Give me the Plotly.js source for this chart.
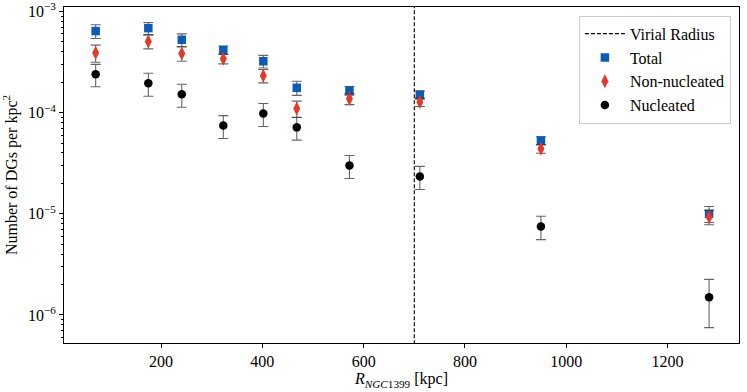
<!DOCTYPE html>
<html>
<head>
<meta charset="utf-8">
<script src="https://cdn.plot.ly/plotly-3.0.1.min.js"></script>
<style>html,body{margin:0;padding:0;background:#fff;}#chart{width:747px;height:392px;}</style>
</head>
<body>
<div id="chart"></div>
<script>
// Radial bins (kpc)
const radius = [71, 175, 241, 323, 402, 468, 572, 711, 950, 1282];
// Total
const totalVal = [6.4e-4, 6.85e-4, 5.25e-4, 4.15e-4, 3.22e-4, 1.76e-4, 1.65e-4, 1.5e-4, 5.3e-5, 1.0e-5];
const totalErr = [1.0e-4, 0.93e-4, 0.75e-4, 0.4e-4, 0.46e-4, 0.28e-4, 0.16e-4, 0.14e-4, 0.48e-5, 1.8e-6];
// Non-nucleated
const nonNucVal = [3.9e-4, 5.05e-4, 3.84e-4, 3.4e-4, 2.32e-4, 1.1e-4, 1.37e-4, 1.27e-4, 4.4e-5, 9.3e-6];
const nonNucErr = [0.75e-4, 0.78e-4, 0.62e-4, 0.37e-4, 0.35e-4, 0.2e-4, 0.17e-4, 0.12e-4, 0.43e-5, 1.5e-6];
// Nucleated
const nucVal = [2.4e-4, 1.95e-4, 1.52e-4, 7.45e-5, 9.8e-5, 7.15e-5, 3.0e-5, 2.34e-5, 7.5e-6, 1.5e-6];
const nucErr = [0.6e-4, 0.5e-4, 0.39e-4, 0.19e-4, 0.25e-4, 0.18e-4, 0.77e-5, 0.6e-5, 1.95e-6, 0.75e-6];
// Virial radius
const virialRadius = 700;
// Tick labels
const xTicks = [200, 400, 600, 800, 1000, 1200];
const yTicks = [1e-6, 1e-5, 1e-4, 1e-3];
const yTickText = ['10<sup>\u22126</sup>', '10<sup>\u22125</sup>', '10<sup>\u22124</sup>', '10<sup>\u22123</sup>'];
const yMinor = [];
[1e-7, 1e-6, 1e-5, 1e-4].forEach(d => { for (let k = 2; k <= 9; k++) yMinor.push(k * d); });

const font = "'Liberation Serif', 'DejaVu Serif', serif";
const errColor = 'rgba(50,50,50,0.75)';

function errTrace(name, x, y, e, color, symbol, size) {
  return {
    type: 'scatter', mode: 'markers', name: name, x: x, y: y,
    marker: {color: color, symbol: symbol, size: size, line: {width: 0}},
    error_y: {type: 'data', array: e, visible: true, color: errColor, thickness: 1.1, width: 5}
  };
}

const traces = [
  {type: 'scatter', mode: 'lines', name: 'Virial Radius',
   x: [virialRadius, virialRadius], y: [1e-7, 1e-2],
   line: {color: 'black', width: 1.1, dash: '4px,2px'}},
  errTrace('Total', radius, totalVal, totalErr, '#0b5cb8', 'square', 8.5),
  errTrace('Non-nucleated', radius, nonNucVal, nonNucErr, '#e5382a', 'diamond-tall', 10),
  errTrace('Nucleated', radius, nucVal, nucErr, 'black', 'circle', 8.5)
];

const layout = {
  width: 747, height: 392,
  margin: {l: 64, r: 8, t: 7, b: 49},
  paper_bgcolor: 'white', plot_bgcolor: 'white',
  font: {family: font, size: 16, color: 'black'},
  showlegend: true,
  legend: {
    x: 0.988, y: 0.974, xanchor: 'right', yanchor: 'top',
    bgcolor: 'rgba(255,255,255,0.8)', bordercolor: '#cccccc', borderwidth: 1,
    font: {family: font, size: 16}, tracegroupgap: 0, itemwidth: 40
  },
  xaxis: {
    range: [8.5, 1341], showgrid: false, zeroline: false,
    showline: true, mirror: true, linecolor: 'black', linewidth: 1,
    ticks: 'outside', ticklen: 4, tickcolor: 'black',
    tickvals: xTicks,
    tickfont: {family: font, size: 16},
    title: {text: '<i>R</i><sub><i>NGC</i>1399</sub> [kpc]', font: {family: font, size: 16}, standoff: 3}
  },
  yaxis: {
    type: 'log', range: [-6.277, -2.956], showgrid: false, zeroline: false,
    showline: true, mirror: true, linecolor: 'black', linewidth: 1,
    ticks: 'outside', ticklen: 4, tickcolor: 'black',
    tickmode: 'array', tickvals: yTicks, ticktext: yTickText,
    tickfont: {family: font, size: 16},
    minor: {ticks: 'outside', ticklen: 2, tickcolor: 'black', tickmode: 'array', tickvals: yMinor, showgrid: false},
    title: {text: 'Number of DGs per kpc<sup>2</sup>', font: {family: font, size: 16}, standoff: 6}
  }
};

Plotly.newPlot('chart', traces, layout, {displayModeBar: false, staticPlot: true});
</script>
</body>
</html>
